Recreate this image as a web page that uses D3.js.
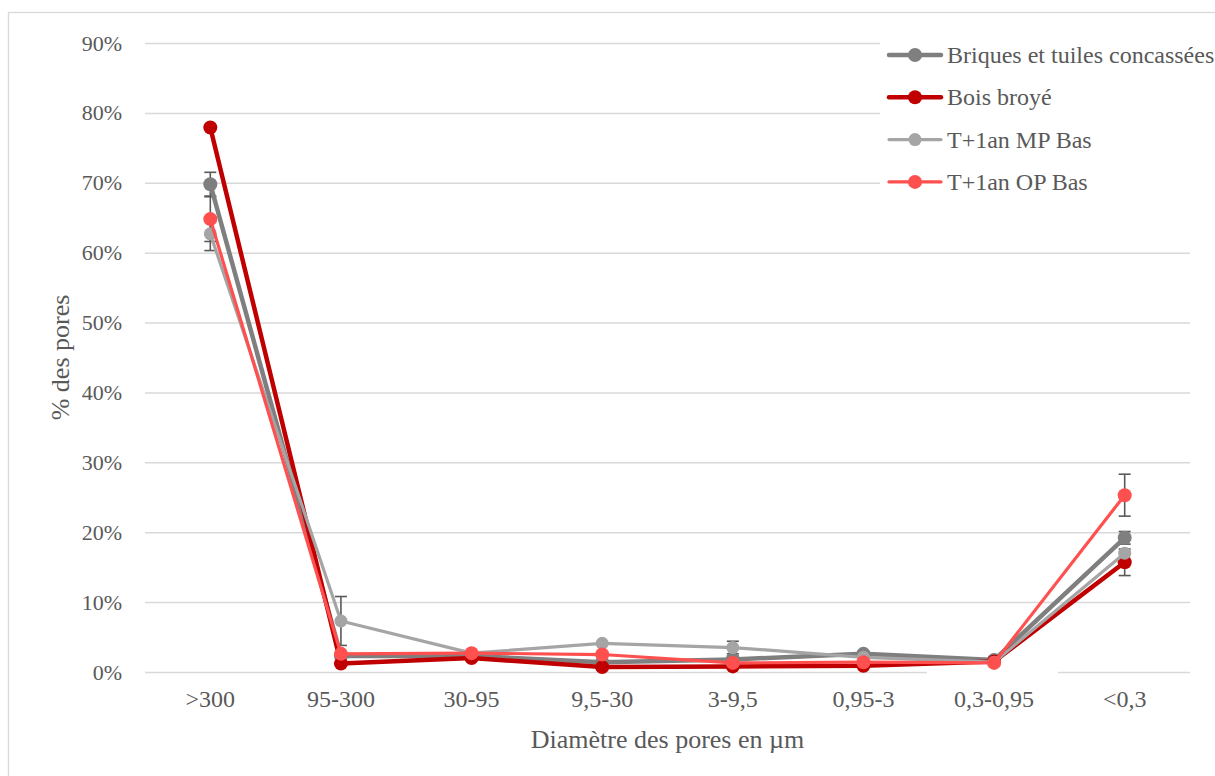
<!DOCTYPE html>
<html><head><meta charset="utf-8">
<script src="https://cdn.jsdelivr.net/npm/d3@7"></script>
<style>body{margin:0;background:#fff}svg{display:block}</style>
</head><body>
<svg id="c" width="1215" height="776"></svg>
<script>
const categories = [">300", "95-300", "30-95", "9,5-30", "3-9,5", "0,95-3", "0,3-0,95", "<0,3"];
const yTicks = [0, 10, 20, 30, 40, 50, 60, 70, 80, 90];
const seriesNames = ["Briques et tuiles concassées", "Bois broyé", "T+1an MP Bas", "T+1an OP Bas"];
const briques = [69.8, 2.3, 2.3, 1.4, 1.8, 2.6, 1.7, 19.2];
const bois    = [77.9, 1.2, 2.0, 0.7, 0.8, 0.9, 1.5, 15.7];
const mpBas   = [62.7, 7.3, 2.7, 4.1, 3.5, 2.1, 1.4, 17.0];
const opBas   = [64.8, 2.6, 2.7, 2.5, 1.3, 1.4, 1.3, 25.3];
const errBriques = [1.7, 0, 0.3, 0, 0.5, 0.4, 0.4, 0.9];
const errBois    = [0, 0, 0, 0, 0, 0, 0, 1.9];
const errMP      = [2.4, 3.5, 0, 0, 0.9, 0, 0, 0];
const errOP      = [3.2, 0, 0, 0, 0, 0, 0, 3.0];

(function () {
const colors = ["#7f7f7f", "#c00000", "#a5a5a5", "#ff5050"];
const widths = [4.5, 4.5, 3.2, 3.2];
const radii = [7, 7, 6.5, 7];
const data = [briques, bois, mpBas, opBas];
const errs = [errBriques, errBois, errMP, errOP];

const svg = d3.select("#c");
const font = "'Liberation Serif', 'Times New Roman', serif";
const txt = "#595959";

svg.append("rect").attr("x", 8.5).attr("y", 12.5).attr("width", 1220).attr("height", 780)
  .attr("fill", "#fff").attr("stroke", "#d9d9d9").attr("stroke-width", 1.3);

const pl = 145, pr = 1190, pt = 43, pb = 672;
const x = d3.scaleBand().domain(categories).range([pl, pr]);
const y = d3.scaleLinear().domain([0, 90]).range([pb, pt]);
const cx = c => x(c) + x.bandwidth() / 2;

const yAxis = d3.axisLeft(y).tickValues(yTicks).tickFormat(d => d + "%").tickSize(-(pr - pl)).tickPadding(23);
const gy = svg.append("g").attr("transform", `translate(${pl},0)`).call(yAxis);
gy.select(".domain").remove();
gy.selectAll(".tick line").attr("stroke", "#d9d9d9").attr("stroke-width", 1.5);
gy.selectAll(".tick text").attr("fill", txt).style("font-family", font).style("font-size", "22px");

svg.append("rect").attr("x", 927).attr("y", 668).attr("width", 131).attr("height", 8).attr("fill", "#fff");

const xAxis = d3.axisBottom(x).tickSize(0).tickPadding(18);
const gx = svg.append("g").attr("transform", `translate(0,${pb})`).call(xAxis);
gx.select(".domain").remove();
gx.selectAll(".tick text").attr("fill", txt).style("font-family", font).style("font-size", "24px");

svg.append("text").attr("x", (pl + pr) / 2).attr("y", 748).attr("text-anchor", "middle")
  .attr("fill", txt).style("font-family", font).style("font-size", "26px").text("Diamètre des pores en µm");
svg.append("text").attr("transform", `translate(69,${(pt + pb) / 2}) rotate(-90)`).attr("text-anchor", "middle")
  .attr("fill", txt).style("font-family", font).style("font-size", "26px").text("% des pores");

svg.append("rect").attr("x", 880).attr("y", 32).attr("width", 335).attr("height", 172).attr("fill", "#fff");

const line = d3.line().x((d, i) => cx(categories[i])).y(d => y(d));

const eg = svg.append("g");
data.forEach((s, si) => {
  s.forEach((v, i) => {
    const e = errs[si][i];
    if (!e) return;
    const xc = cx(categories[i]);
    eg.append("line").attr("x1", xc).attr("x2", xc).attr("y1", y(v - e)).attr("y2", y(v + e))
      .attr("stroke", "#595959").attr("stroke-width", 1.6);
    [v - e, v + e].forEach(t => eg.append("line").attr("x1", xc - 6).attr("x2", xc + 6)
      .attr("y1", y(t)).attr("y2", y(t)).attr("stroke", "#595959").attr("stroke-width", 1.6));
  });
});

data.forEach((s, si) => {
  const g = svg.append("g");
  g.append("path").datum(s).attr("d", line).attr("fill", "none")
    .attr("stroke", colors[si]).attr("stroke-width", widths[si]).attr("stroke-linejoin", "round");
  g.selectAll("circle").data(s).join("circle")
    .attr("cx", (d, i) => cx(categories[i])).attr("cy", d => y(d)).attr("r", radii[si]).attr("fill", colors[si]);
});

const lg = svg.append("g");
seriesNames.forEach((n, i) => {
  const ly = 55 + i * 42.3;
  lg.append("line").attr("x1", 889).attr("x2", 941).attr("y1", ly).attr("y2", ly)
    .attr("stroke", colors[i]).attr("stroke-width", widths[i]).attr("stroke-linecap", "round");
  lg.append("circle").attr("cx", 915).attr("cy", ly).attr("r", radii[i]).attr("fill", colors[i]);
  lg.append("text").attr("x", 947).attr("y", ly + 8).attr("fill", txt)
    .style("font-family", font).style("font-size", "24px").text(n);
});
})();
</script>
</body></html>
